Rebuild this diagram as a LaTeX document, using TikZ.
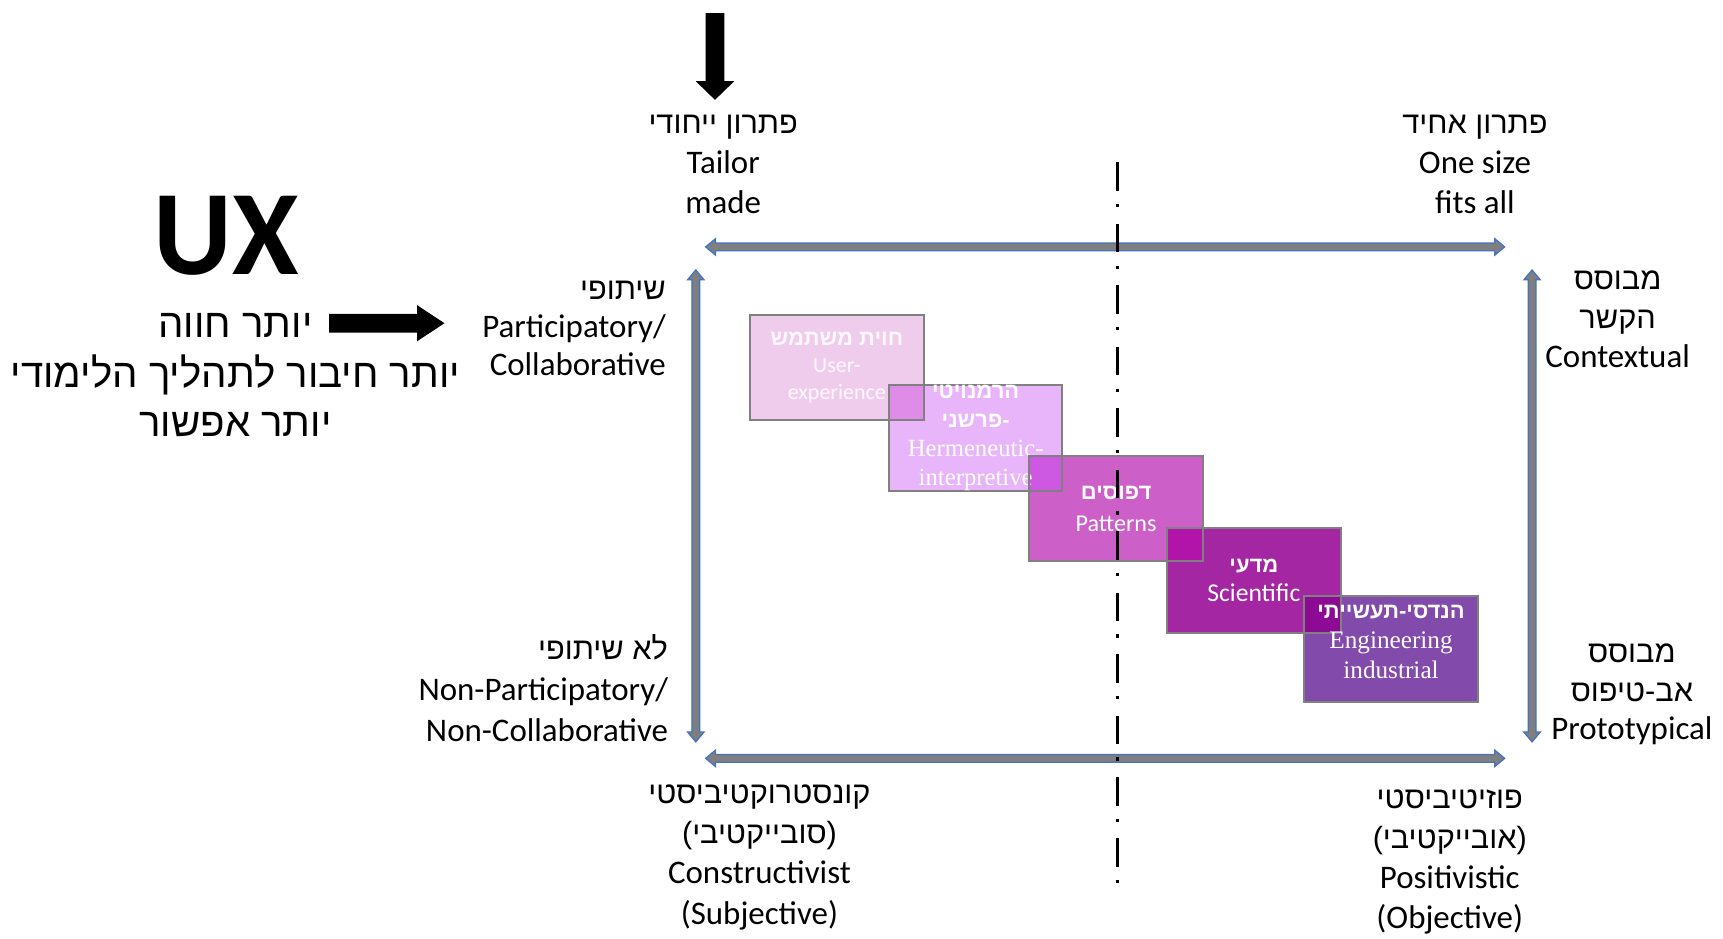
\documentclass[tikz,border=0pt]{standalone}
\usepackage{fontspec}
\setmainfont{Carlito}
\newfontfamily\heb[Script=Hebrew]{Liberation Sans}
\newfontfamily\tms{Liberation Serif}
\TeXXeTstate=1
\usetikzlibrary{backgrounds}
\newcommand{\HE}[1]{{\heb\beginR #1\endR}}
\newcommand{\HEs}[1]{{\heb\fontsize{16.8}{10}\selectfont\beginR #1\endR}}
\newcommand{\HEB}[1]{{\heb\bfseries\beginR #1\endR}}
\definecolor{axisgray}{RGB}{127,127,127}
\definecolor{axisblue}{RGB}{68,114,196}
\definecolor{boxgray}{RGB}{128,128,128}
\definecolor{cux}{RGB}{239,204,236}
\definecolor{cherm}{RGB}{232,180,250}
\definecolor{cuxherm}{RGB}{222,140,232}
\definecolor{cpat}{RGB}{205,96,200}
\definecolor{chermpat}{RGB}{205,88,225}
\definecolor{csci}{RGB}{165,38,163}
\definecolor{cpatsci}{RGB}{178,20,170}
\definecolor{ceng}{RGB}{130,74,170}
\definecolor{csceng}{RGB}{140,10,148}
% horizontal double arrow: x1, x2, y
\newcommand{\hdarrow}[3]{\filldraw[axisarrow] (#1,#3) -- ({#1+9},{#3-7.5}) -- ({#1+9},{#3-3.5}) -- ({#2-9},{#3-3.5}) -- ({#2-9},{#3-7.5}) -- (#2,#3) -- ({#2-9},{#3+7.5}) -- ({#2-9},{#3+3.5}) -- ({#1+9},{#3+3.5}) -- ({#1+9},{#3+7.5}) -- cycle;}
% vertical double arrow: y1, y2, x
\newcommand{\vdarrow}[3]{\filldraw[axisarrow] (#3,#1) -- ({#3-7.5},{#1+9}) -- ({#3-3.5},{#1+9}) -- ({#3-3.5},{#2-9}) -- ({#3-7.5},{#2-9}) -- (#3,#2) -- ({#3+7.5},{#2-9}) -- ({#3+3.5},{#2-9}) -- ({#3+3.5},{#1+9}) -- ({#3+7.5},{#1+9}) -- cycle;}
\tikzset{
  axisarrow/.style={fill=axisgray, draw=axisblue, line width=0.7pt, line join=miter},
  blackarrow/.style={fill=black, draw=none},
  lbl/.style={inner sep=0, align=center, text=black},
  boxnode/.style={draw=boxgray, line width=1.1pt, minimum width=94.8pt, minimum height=57.6pt, inner sep=0, align=center, text=white},
  midline/.style={draw=black, line width=1.8pt, dash pattern=on 15.6pt off 7.2pt on 1.8pt off 9pt}
}
\begin{document}
\begin{tikzpicture}[x=0.6pt,y=-0.6pt]
\useasboundingbox (0,0) rectangle (1570,855.5);

% axes
\hdarrow{643}{1371}{225}
\hdarrow{643}{1371}{691}
\vdarrow{246}{676}{634}
\vdarrow{246}{676}{1396}

% black arrows
\fill[blackarrow] (643,12) -- (660,12) -- (660,74) -- (669,74) -- (651.5,91) -- (634,74) -- (643,74) -- cycle;
\fill[blackarrow] (300,286) -- (380,286) -- (380,278) -- (405,294.5) -- (380,311) -- (380,303) -- (300,303) -- cycle;

% left block
\node[lbl, font=\fontsize{66}{70}\selectfont\bfseries] (ux) at (206,215) {UX};
\node[lbl, font=\fontsize{22}{27}\selectfont] (uxtext) at (214.5,342) {\HE{יותר חווה}\\\HE{יותר חיבור לתהליך הלימודי}\\\HE{יותר אפשור}};

% axis labels
\node[lbl, font=\fontsize{18}{21.9}\selectfont] (tailor) at (659,149.5) {\HEs{פתרון ייחודי}\\Tailor\\made};
\node[lbl, font=\fontsize{18}{21.9}\selectfont] (onesize) at (1344,149.5) {\HEs{פתרון אחיד}\\One size\\fits all};
\node[lbl, align=right, anchor=east, font=\fontsize{18}{20.7}\selectfont] (partic) at (607,299.5) {\HEs{שיתופי}\\Participatory/\\Collaborative};
\node[lbl, align=right, anchor=east, font=\fontsize{18}{22.2}\selectfont] (nonpart) at (609,627) {\HEs{לא שיתופי}\\Non-Participatory/\\Non-Collaborative};
\node[lbl, font=\fontsize{18}{21.3}\selectfont] (context) at (1474,290.5) {\HEs{מבוסס}\\\HEs{הקשר}\\Contextual};
\node[lbl, font=\fontsize{18}{21}\selectfont] (proto) at (1487,633) {\HEs{מבוסס}\\\HEs{אב-טיפוס}\\Prototypical};
\node[lbl, font=\fontsize{18}{22}\selectfont] (constr) at (692,781) {\HEs{קונסטרוקטיביסטי}\\\HEs{(סובייקטיבי)}\\Constructivist\\(Subjective)};
\node[lbl, font=\fontsize{18}{22}\selectfont] (posit) at (1321,785.5) {\HEs{פוזיטיביסטי}\\\HEs{(אובייקטיבי)}\\Positivistic\\(Objective)};

% boxes
\node[boxnode, font=\fontsize{12}{14.7}\selectfont, text opacity=0.85] (uxbox) at (762.5,335) {\HEB{חוית משתמש}\\User-\\experience};
\node[boxnode, font=\fontsize{13.5}{15.9}\selectfont] (herm) at (889,399) {{\fontsize{12}{15.9}\selectfont\HEB{הרמנויטי}}\\{\fontsize{12}{15.9}\selectfont\HEB{-פרשני}}\\{\tms Hermeneutic-}\\{\tms interpretive}};
\node[boxnode, font=\fontsize{13.2}{17.4}\selectfont] (pat) at (1017,463.5) {{\fontsize{12}{17.4}\selectfont\HEB{דפוסים}}\\Patterns};
\node[boxnode, font=\fontsize{14}{16.2}\selectfont] (sci) at (1142.5,529) {{\fontsize{12}{16.2}\selectfont\HEB{מדעי}}\\Scientific};
\node[boxnode, font=\fontsize{13.8}{16.5}\selectfont, text depth=8pt] (eng) at (1267.5,591.5) {{\fontsize{12}{16.5}\selectfont\HEB{הנדסי-תעשייתי}}\\{\tms Engineering}\\{\tms industrial}};

\begin{scope}[on background layer]
\fill[cux] (uxbox.south west) rectangle (uxbox.north east);
\fill[cherm] (herm.south west) rectangle (herm.north east);
\fill[cpat] (pat.south west) rectangle (pat.north east);
\fill[csci] (sci.south west) rectangle (sci.north east);
\fill[ceng] (eng.south west) rectangle (eng.north east);
\fill[cuxherm] (herm.north west) rectangle (uxbox.south east);
\fill[chermpat] (pat.north west) rectangle (herm.south east);
\fill[cpatsci] (sci.north west) rectangle (pat.south east);
\fill[csceng] (eng.north west) rectangle (sci.south east);
\end{scope}

% dash-dot divider
\coordinate (dtop) at (1018,148);
\coordinate (dbot) at (1018,815);
\draw[midline] (dtop) -- (dbot);
\end{tikzpicture}
\end{document}
